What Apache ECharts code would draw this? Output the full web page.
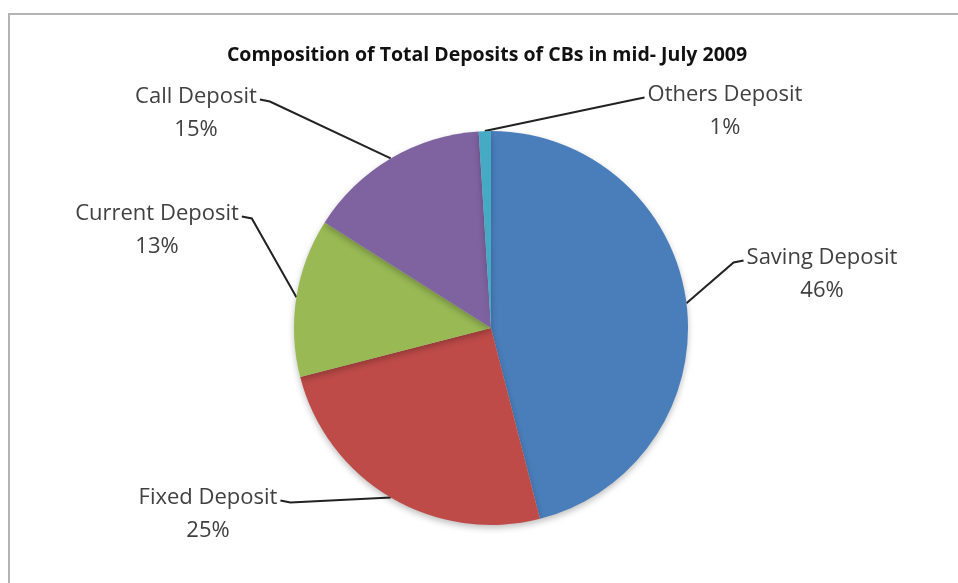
<!DOCTYPE html>
<html>
<head>
<meta charset="utf-8">
<script src="https://cdn.jsdelivr.net/npm/echarts@6/dist/echarts.min.js"></script>
<style>
html,body{margin:0;padding:0;background:#fff;}
#c{width:958px;height:583px;}
</style>
</head>
<body>
<div id="c"></div>
<script>
const chartTitle = 'Composition of Total Deposits of CBs in mid- July 2009';
const categories = ['Saving Deposit', 'Fixed Deposit', 'Current Deposit', 'Call Deposit', 'Others Deposit'];
const values = [46, 25, 13, 15, 1];
const colors = ['#4A7EBB', '#BE4B48', '#98B954', '#7F63A1', '#46AAC5'];
// label block centres (layout only) and which side the leader line attaches to
const labelCentres = [[822, 274], [208, 514], [157, 230], [196, 113], [725, 111]];
const lineSide = ['left', 'right', 'right', 'right', 'left'];

const chart = echarts.init(document.getElementById('c'), null, {renderer: 'canvas'});
const LABEL_FONT = 22, LINE_H = 33;

chart.setOption({
  animation: false,
  backgroundColor: '#fff',
  title: {
    text: chartTitle,
    left: 482, top: 40, textAlign: 'center',
    textStyle: {fontFamily: 'Open Sans', fontWeight: 'bold', fontSize: 19.5, color: '#111'}
  },
  graphic: [{
    type: 'rect', shape: {x: 9, y: 14, width: 1000, height: 700},
    style: {fill: 'none', stroke: '#b4b4b4', lineWidth: 2}, silent: true, z: -1
  }],
  series: [{
    type: 'pie',
    center: [491, 328],
    radius: 197,
    startAngle: 90,
    clockwise: true,
    data: categories.map((n, i) => ({name: n, value: values[i], itemStyle: {color: colors[i]}})),
    itemStyle: {borderWidth: 0, shadowBlur: 6, shadowOffsetY: 3, shadowColor: 'rgba(0,0,0,0.25)'},
    label: {
      show: true,
      formatter: '{b}\n{d}%',
      fontFamily: 'Open Sans', fontSize: LABEL_FONT, lineHeight: LINE_H,
      color: '#404040', align: 'center'
    },
    labelLine: {show: true, length: 20, length2: 10, lineStyle: {color: '#222', width: 2}},
    labelLayout: function (p) {
      const i = p.dataIndex;
      const c = labelCentres[i];
      const w = p.labelRect.width, h = p.labelRect.height;
      const top = c[1] - h / 2;
      const ly = top + LINE_H / 2 + 3;
      const arc = p.labelLinePoints ? p.labelLinePoints[0] : [c[0], c[1]];
      let ex, elbow;
      if (lineSide[i] === 'left') {
        ex = c[0] - w / 2 - 3;
        elbow = [ex - 10, ly + 2];
      } else {
        ex = c[0] + w / 2 + 3;
        elbow = [ex + 10, ly + 2];
      }
      return {
        x: c[0], y: c[1], align: 'center', verticalAlign: 'middle',
        labelLinePoints: [arc, elbow, [ex, ly]]
      };
    }
  }]
});
</script>
</body>
</html>
